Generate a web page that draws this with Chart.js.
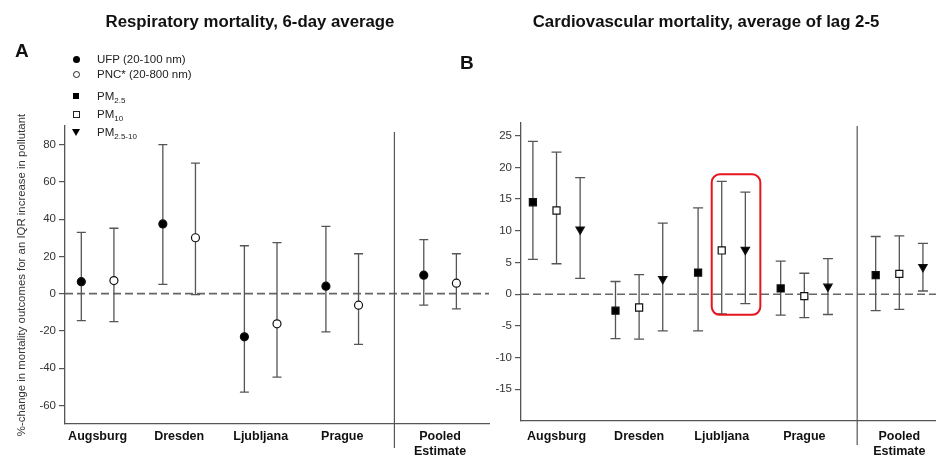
<!DOCTYPE html>
<html>
<head>
<meta charset="utf-8">
<script src="https://cdn.jsdelivr.net/npm/chart.js@4.4.1/dist/chart.umd.min.js"></script>
<style>
  html, body { margin: 0; padding: 0; background: #fff; overflow: hidden; }
  body { width: 936px; height: 456px; position: relative; font-family: "Liberation Sans", Arial, sans-serif; color: #111; }
  canvas { position: absolute; top: 0; }
  #chartA { left: 0; }
  #chartB { left: 470px; }
  .title { position: absolute; top: 12px; font-weight: bold; font-size: 16.8px; line-height: 20px; white-space: nowrap; transform: translateX(-50%); }
  .letter { position: absolute; font-weight: bold; font-size: 19px; line-height: 19px; }
  .row { position: absolute; left: 70px; height: 14px; line-height: 14px; font-size: 11.5px; color: #222; display: flex; align-items: center; white-space: nowrap; }
  .mk { width: 12px; height: 14px; margin-right: 15px; display: flex; align-items: center; justify-content: center; }
  .mk i { display: block; box-sizing: border-box; }
  .dot i { width: 7px; height: 7px; border-radius: 50%; background: #000; }
  .ring i { width: 7px; height: 7px; border-radius: 50%; border: 1.2px solid #222; background: #fff; }
  .sq i { width: 6px; height: 6px; background: #000; }
  .osq i { width: 7px; height: 7px; border: 1.2px solid #222; background: #fff; }
  .tri i { width: 0; height: 0; border-left: 4px solid transparent; border-right: 4px solid transparent; border-top: 7px solid #000; }
  sub { font-size: 8px; line-height: 0; vertical-align: -3px; }
</style>
</head>
<body>
<canvas id="chartA" width="495" height="456"></canvas>
<canvas id="chartB" width="500" height="456"></canvas>

<div class="title" style="left:250px">Respiratory mortality, 6-day average</div>
<div class="title" style="left:706px">Cardiovascular mortality, average of lag 2-5</div>
<div class="letter" style="left:15px; top:41px">A</div>
<div class="letter" style="left:460px; top:53px">B</div>

<div class="row" style="top:52px"><span class="mk dot"><i></i></span><span>UFP (20-100 nm)</span></div>
<div class="row" style="top:67px"><span class="mk ring"><i></i></span><span>PNC* (20-800 nm)</span></div>
<div class="row" style="top:89px"><span class="mk sq"><i></i></span><span>PM<sub>2.5</sub></span></div>
<div class="row" style="top:107px"><span class="mk osq"><i></i></span><span>PM<sub>10</sub></span></div>
<div class="row" style="top:125px"><span class="mk tri"><i></i></span><span>PM<sub>2.5-10</sub></span></div>

<script>
const cities = ['Augsburg', 'Dresden', 'Ljubljana', 'Prague', ['Pooled', 'Estimate']];

// A: respiratory mortality, 6-day average (estimate, 95% CI)
const ufpEst  = [6.4, 37.4, -23.2, 4.0, 9.9];
const ufpLow  = [-14.5, 5.0, -52.9, -20.5, -6.2];
const ufpHigh = [32.9, 80.0, 25.7, 36.1, 29.0];
const pncEst  = [7.0, 30.0, -16.2, -6.2, 5.6];
const pncLow  = [-15.0, -0.5, -44.8, -27.3, -8.2];
const pncHigh = [35.1, 70.1, 27.4, 21.4, 21.4];
const ticksA  = [-60, -40, -20, 0, 20, 40, 60, 80];

// B: cardiovascular mortality, average of lag 2-5
const pm25Est    = [14.5, -2.6, 3.4, 0.9, 3.0];
const pm25Low    = [5.5, -7.0, -5.8, -3.3, -2.6];
const pm25High   = [24.1, 2.0, 13.6, 5.2, 9.1];
const pm10Est    = [13.2, -2.1, 6.9, -0.3, 3.2];
const pm10Low    = [4.8, -7.1, -3.1, -3.7, -2.4];
const pm10High   = [22.4, 3.1, 17.8, 3.3, 9.2];
const coarseEst  = [10.2, 2.4, 7.0, 1.2, 4.3];
const coarseLow  = [2.5, -5.8, -1.5, -3.2, 0.5];
const coarseHigh = [18.4, 11.2, 16.1, 5.6, 8.0];
const ticksB     = [-15, -10, -5, 0, 5, 10, 15, 20, 25];

const FONT = '"Liberation Sans", Arial, sans-serif';
const AXIS = '#555';

// cities sit at 0..3, the pooled estimate a little further out
function slots(pooledAt) { return cities.map((c, i) => i < 4 ? i : pooledAt); }

function series(est, low, high, where, offset, style) {
  return Object.assign({
    data: est.map((v, i) => ({ x: where[i] + offset, y: v })),
    low: low,
    high: high,
    showLine: false,
    borderColor: '#000',
    borderWidth: 1.2,
    pointBackgroundColor: '#000',
    pointBorderColor: '#111'
  }, style);
}

// zero reference, separator before the pooled group, and CI whiskers
const whiskers = {
  id: 'whiskers',
  beforeDatasetsDraw(chart, args, opts) {
    const { ctx, chartArea, scales: { x, y } } = chart;
    ctx.save();
    ctx.strokeStyle = '#666';
    ctx.lineWidth = 1.6;
    ctx.setLineDash([8, 4]);
    const y0 = y.getPixelForValue(0);
    ctx.beginPath();
    ctx.moveTo(chartArea.left, y0);
    ctx.lineTo(chartArea.right, y0);
    ctx.stroke();
    ctx.setLineDash([]);

    const xs = x.getPixelForValue(opts.split);
    ctx.strokeStyle = AXIS;
    ctx.lineWidth = 1.2;
    ctx.beginPath();
    ctx.moveTo(xs, chartArea.top + opts.splitTop);
    ctx.lineTo(xs, chartArea.bottom + 24);
    ctx.stroke();

    ctx.strokeStyle = '#555';
    ctx.lineWidth = 1.3;
    chart.data.datasets.forEach(ds => {
      ds.data.forEach((p, i) => {
        const px = x.getPixelForValue(p.x);
        const lo = y.getPixelForValue(ds.low[i]);
        const hi = y.getPixelForValue(ds.high[i]);
        ctx.beginPath();
        ctx.moveTo(px, lo); ctx.lineTo(px, hi);
        ctx.moveTo(px - opts.cap, lo); ctx.lineTo(px + opts.cap, lo);
        ctx.moveTo(px - opts.cap, hi); ctx.lineTo(px + opts.cap, hi);
        ctx.stroke();
      });
    });
    ctx.restore();
  },
  // red frame around the picked-out estimates
  afterDatasetsDraw(chart, args, opts) {
    if (!opts.mark) return;
    const { ctx, scales: { x, y } } = chart;
    const { index, sets } = opts.mark;
    const picked = sets.map(k => chart.data.datasets[k]);
    const xs = picked.map(ds => x.getPixelForValue(ds.data[index].x));
    const top = y.getPixelForValue(Math.max(...picked.map(ds => ds.high[index])));
    const bottom = y.getPixelForValue(Math.min(...picked.map(ds => ds.low[index])));
    const left = Math.min(...xs) - 10;
    const right = Math.max(...xs) + 15;
    ctx.save();
    ctx.strokeStyle = '#e8141c';
    ctx.lineWidth = 2;
    ctx.beginPath();
    ctx.roundRect(left, top - 7, right - left, bottom - top + 8, 8);
    ctx.stroke();
    ctx.restore();
  }
};

function makeOptions(cfg) {
  return {
    responsive: false,
    animation: false,
    layout: { padding: { top: cfg.top, right: cfg.right, bottom: 0, left: 0 } },
    plugins: {
      legend: { display: false },
      tooltip: { enabled: false },
      whiskers: { split: 3.64, cap: cfg.cap, splitTop: cfg.splitTop, mark: cfg.mark }
    },
    scales: {
      x: {
        type: 'linear',
        min: cfg.xMin,
        max: cfg.xMax,
        afterBuildTicks: s => { s.ticks = cfg.where.map(v => ({ value: v })); },
        afterFit: s => { s.height = cfg.xHeight; },
        grid: { drawOnChartArea: false, drawTicks: false },
        border: { color: AXIS, width: 1.3 },
        ticks: {
          autoSkip: false,
          maxRotation: 0,
          padding: cfg.xPad,
          color: '#111',
          font: { family: FONT, size: 12.5, weight: 'bold', lineHeight: 1.2 },
          callback: (v, i) => cities[i]
        }
      },
      y: {
        min: cfg.yMin,
        max: cfg.yMax,
        afterBuildTicks: s => { s.ticks = cfg.ticks.map(v => ({ value: v })); },
        afterFit: s => { s.width = cfg.yWidth; },
        grid: { drawOnChartArea: false, tickLength: 6, color: AXIS, lineWidth: 1.2 },
        border: { color: AXIS, width: 1.3 },
        ticks: { padding: 3, color: '#333', font: { family: FONT, size: 11.5 } },
        title: {
          display: !!cfg.yTitle,
          text: cfg.yTitle || '',
          color: '#333',
          font: { family: FONT, size: 11.4 },
          padding: { top: 15, bottom: 0 }
        }
      }
    }
  };
}

const whereA = slots(4.2);
new Chart(document.getElementById('chartA'), {
  type: 'scatter',
  data: {
    datasets: [
      series(ufpEst, ufpLow, ufpHigh, whereA, -0.2,
        { label: 'UFP (20-100 nm)', pointStyle: 'circle', pointRadius: 4 }),
      series(pncEst, pncLow, pncHigh, whereA, 0.2,
        { label: 'PNC* (20-800 nm)', pointStyle: 'circle', pointRadius: 4, pointBackgroundColor: '#fff' })
    ]
  },
  options: makeOptions({
    top: 126, right: 6, xMin: -0.4, xMax: 4.8, where: whereA, xHeight: 32, xPad: 5,
    yMin: -70, yMax: 90, ticks: ticksA, yWidth: 65, cap: 4.5, splitTop: 6,
    yTitle: '%-change in mortality outcomes for an IQR increase in pollutant'
  }),
  plugins: [whiskers]
});

const whereB = slots(4.15);
new Chart(document.getElementById('chartB'), {
  type: 'scatter',
  data: {
    datasets: [
      series(pm25Est, pm25Low, pm25High, whereB, -0.286,
        { label: 'PM2.5', pointStyle: 'rect', pointRadius: 5 }),
      series(pm10Est, pm10Low, pm10High, whereB, 0,
        { label: 'PM10', pointStyle: 'rect', pointRadius: 5, pointBackgroundColor: '#fff' }),
      series(coarseEst, coarseLow, coarseHigh, whereB, 0.286,
        { label: 'PM2.5-10', pointStyle: 'triangle', rotation: 180, pointRotation: 180, pointRadius: 4.8 })
    ]
  },
  options: makeOptions({
    top: 123, right: 17, xMin: -0.43, xMax: 4.8, where: whereB, xHeight: 35, xPad: 8,
    yMin: -20, yMax: 27, ticks: ticksB, yWidth: 51, cap: 5, splitTop: 3,
    mark: { index: 2, sets: [1, 2] }
  }),
  plugins: [whiskers]
});
</script>
</body>
</html>
